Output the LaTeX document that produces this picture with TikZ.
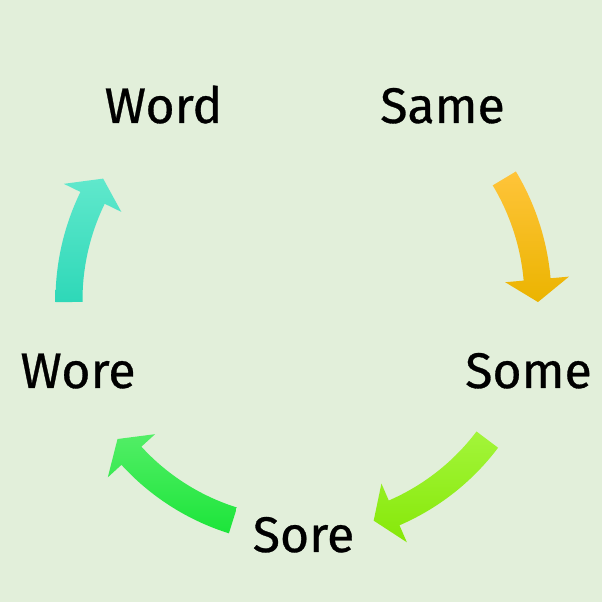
\documentclass[tikz,border=0pt]{standalone}
\usepackage{fontspec}
\setmainfont{Fira Sans}[FakeBold=0.6]
\definecolor{bgc}{HTML}{E2EFDA}
\definecolor{aAtop}{HTML}{FFC43A}
\definecolor{aAmid}{HTML}{FFC800}
\definecolor{aAbot}{HTML}{EBB400}
\definecolor{aBtop}{HTML}{A3F53A}
\definecolor{aBbot}{HTML}{86E808}
\definecolor{aCtop}{HTML}{52EE66}
\definecolor{aCbot}{HTML}{1CE53A}
\definecolor{aDtop}{HTML}{60E8CC}
\definecolor{aDbot}{HTML}{2ED8B8}
\newcommand\cycarrow[5]{%
  \path[#5] ([shift={(C)}]#1:{#4pt+13.5pt})
    arc[start angle=#1, end angle=#2, radius={#4pt+13.5pt}]
    -- ([shift={(C)}]#2:{#4pt+32pt})
    -- ([shift={(C)}]#3:{#4pt})
    -- ([shift={(C)}]#2:{#4pt-32pt})
    -- ([shift={(C)}]#2:{#4pt-13.5pt})
    arc[start angle=#2, end angle=#1, radius={#4pt-13.5pt}]
    -- cycle;}
\tikzset{word/.style={anchor=base, inner sep=0pt, font=\fontsize{50}{60}\selectfont, text=black}}
\begin{document}
\begin{tikzpicture}
\fill[bgc] (0pt,0pt) rectangle (602pt,602pt);
\useasboundingbox (0pt,0pt) rectangle (602pt,602pt);
\coordinate (C) at (302pt,302pt);
\node[word] (word) at (163.5pt,479pt) {Word};
\node[word] (same) at (442.5pt,479pt) {Same};
\node[word] (some) at (528.5pt,214pt) {Some};
\node[word] (sore) at (303.5pt,50pt) {Sore};
\node[word] (wore) at (78pt,214pt) {Wore};
\cycarrow{31}{5}{-0.5}{236}{top color=aAtop, middle color=aAmid, bottom color=aAbot}
\cycarrow{-37}{-66.6}{-72}{232}{top color=aBtop, bottom color=aBbot}
\cycarrow{252.6}{222.4}{217}{231}{top color=aCtop, bottom color=aCbot}
\cycarrow{180.5}{154}{148.6}{233}{top color=aDtop, bottom color=aDbot}
\end{tikzpicture}
\end{document}
